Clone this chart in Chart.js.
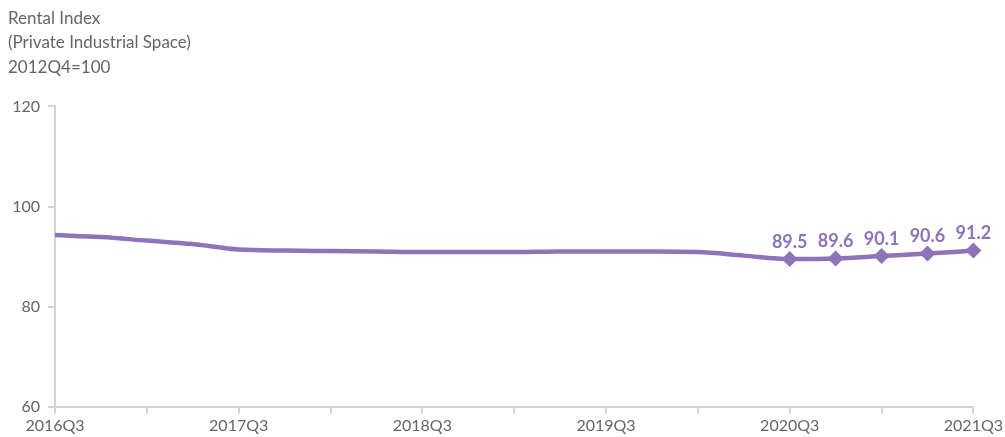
<!DOCTYPE html>
<html>
<head>
<meta charset="utf-8">
<script src="https://cdn.jsdelivr.net/npm/chart.js@4.4.1/dist/chart.umd.min.js"></script>
<style>
  html,body{margin:0;padding:0;background:#fff;}
  #wrap{width:1005px;height:437px;position:relative;}
</style>
</head>
<body>
<div id="wrap"><canvas id="c" width="1005" height="437"></canvas></div>
<script>
const categories = ["2016Q3","2016Q4","2017Q1","2017Q2","2017Q3","2017Q4","2018Q1","2018Q2","2018Q3","2018Q4","2019Q1","2019Q2","2019Q3","2019Q4","2020Q1","2020Q2","2020Q3","2020Q4","2021Q1","2021Q2","2021Q3"];
const rentalIndex = [94.3,93.9,93.2,92.5,91.4,91.2,91.1,91.0,90.9,90.9,90.9,91.0,91.0,91.0,90.9,90.2,89.5,89.6,90.1,90.6,91.2];
const labelledFrom = 16;
const titleLines = ["Rental Index","(Private Industrial Space)","2012Q4=100"];
const yTicks = [60,80,100,120];

const purple = '#8e73b9';
const grey = '#666666';
const axisGrey = '#d4d4d4';

const labelPlugin = {
  id: 'pointLabels',
  afterDatasetsDraw(chart) {
    const ctx = chart.ctx;
    const meta = chart.getDatasetMeta(0);
    ctx.save();
    ctx.font = 'bold 18px Lato';
    ctx.fillStyle = purple;
    ctx.textAlign = 'center';
    ctx.textBaseline = 'middle';
    meta.data.forEach((pt, i) => {
      if (i >= labelledFrom) {
        ctx.fillText(rentalIndex[i].toFixed(1), pt.x, pt.y - 17);
      }
    });
    ctx.restore();
  }
};

new Chart(document.getElementById('c'), {
  type: 'line',
  data: {
    labels: categories,
    datasets: [{
      data: rentalIndex,
      borderColor: purple,
      backgroundColor: purple,
      borderWidth: 4.5,
      tension: 0.4,
      cubicInterpolationMode: 'monotone',
      pointStyle: 'rectRot',
      pointRadius: categories.map((c, i) => i >= labelledFrom ? 8 : 0),
      pointHoverRadius: 0,
      pointBackgroundColor: purple,
      pointBorderWidth: 0
    }]
  },
  options: {
    responsive: false,
    animation: false,
    layout: { padding: { left: 8, right: 30, top: 6, bottom: 0 } },
    plugins: {
      legend: { display: false },
      tooltip: { enabled: false },
      title: {
        display: true,
        text: titleLines,
        align: 'start',
        color: grey,
        font: { family: 'Lato', size: 17, weight: 'normal', lineHeight: 1.44 },
        padding: { top: 0, bottom: 27 }
      }
    },
    scales: {
      x: {
        offset: false,
        border: { color: axisGrey, width: 2 },
        grid: {
          drawOnChartArea: false,
          drawTicks: true,
          tickLength: 7,
          color: (c) => (c.index % 2 === 0 ? axisGrey : 'rgba(0,0,0,0)'),
          lineWidth: 2
        },
        ticks: {
          autoSkip: false,
          maxRotation: 0,
          color: grey,
          font: { family: 'Lato', size: 16 },
          padding: 2,
          callback: function(v, i) { return i % 4 === 0 ? categories[i] : ''; }
        }
      },
      y: {
        min: 60,
        max: 120,
        afterBuildTicks: (axis) => { axis.ticks = yTicks.map(v => ({ value: v })); },
        afterFit: (axis) => { axis.width = 47; },
        border: { color: axisGrey, width: 2 },
        grid: {
          drawOnChartArea: false,
          drawTicks: true,
          tickLength: 7,
          color: axisGrey,
          lineWidth: 2
        },
        ticks: {
          color: grey,
          font: { family: 'Lato', size: 16 },
          padding: 8
        }
      }
    }
  },
  plugins: [labelPlugin]
});
</script>
</body>
</html>
